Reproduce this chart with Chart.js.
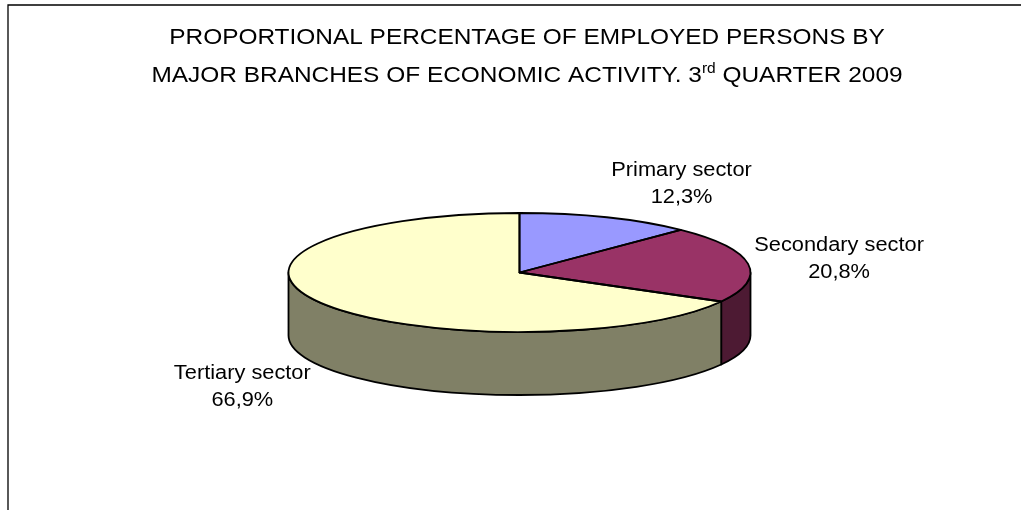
<!DOCTYPE html>
<html>
<head>
<meta charset="utf-8">
<script src="https://cdn.jsdelivr.net/npm/chart.js@4.4.1/dist/chart.umd.min.js"></script>
<style>
    html, body { margin: 0; padding: 0; background: #ffffff; }
    #wrap { width: 1021px; height: 510px; position: relative; }
</style>
</head>
<body>
<div id="wrap"><canvas id="employment-chart" width="1021" height="510"></canvas></div>
<script>
const sectors = ["Primary sector", "Secondary sector", "Tertiary sector"];
const shares = [12.3, 20.8, 66.9];
const titleLine1 = "PROPORTIONAL PERCENTAGE OF EMPLOYED PERSONS BY";
const titleLine2 = ["MAJOR BRANCHES OF ECONOMIC ACTIVITY. 3", "rd", " QUARTER 2009"];
const topColors = ["#9999ff", "#993366", "#ffffcc"];
const sideColors = ["#4d4d80", "#4d1a33", "#808066"];

const FONT = "'Liberation Sans', Arial, sans-serif";

const formatShare = (value) => value.toFixed(1).replace(".", ",") + "%";

// text in the source picture is a bit wider than Arial, so stretch it
const wideText = (ctx, text, x, y, sx) => {
    ctx.save();
    ctx.translate(x, y);
    ctx.scale(sx, 1);
    ctx.fillText(text, 0, 0);
    ctx.restore();
};

const pie3d = {
    id: "pie3d",
    beforeDraw(chart) {
        const ctx = chart.ctx;
        ctx.save();
        ctx.strokeStyle = "#000000";
        ctx.lineWidth = 1.3;
        ctx.beginPath();
        ctx.moveTo(8, chart.height);
        ctx.lineTo(8, 5);
        ctx.lineTo(chart.width, 5);
        ctx.stroke();
        ctx.restore();
    },
    beforeDatasetsDraw(chart, args, opts) {
        const ctx = chart.ctx;
        const arcs = chart.getDatasetMeta(0).data;
        const cx = arcs[0].x;
        const r = arcs[0].outerRadius;
        const cy = opts.centerY;
        const ry = opts.radiusY;

        ctx.save();
        ctx.lineWidth = opts.lineWidth;
        ctx.strokeStyle = "#000000";
        ctx.lineJoin = "round";
        arcs.forEach((arc, i) => {
            const lo = Math.max(arc.startAngle, 0);
            const hi = Math.min(arc.endAngle, Math.PI);
            if (lo >= hi) {
                return;
            }
            ctx.beginPath();
            ctx.ellipse(cx, cy, r, ry, 0, lo, hi);
            ctx.lineTo(cx + r * Math.cos(hi), cy + ry * Math.sin(hi) + opts.depth);
            ctx.ellipse(cx, cy + opts.depth, r, ry, 0, hi, lo, true);
            ctx.closePath();
            ctx.fillStyle = sideColors[i];
            ctx.fill();
            ctx.stroke();
        });
        ctx.restore();

        // squash the library's round pie into the top face
        ctx.save();
        ctx.translate(0, cy);
        ctx.scale(1, ry / r);
        ctx.translate(0, -arcs[0].y);
    },
    afterDatasetsDraw(chart, args, opts) {
        const ctx = chart.ctx;
        ctx.restore();

        const arcs = chart.getDatasetMeta(0).data;
        const cx = arcs[0].x;
        const r = arcs[0].outerRadius;
        const cy = opts.centerY;
        const ry = opts.radiusY;

        ctx.save();
        ctx.lineWidth = opts.lineWidth;
        ctx.strokeStyle = "#000000";
        ctx.lineJoin = "round";
        arcs.forEach((arc) => {
            ctx.beginPath();
            ctx.moveTo(cx, cy);
            ctx.ellipse(cx, cy, r, ry, 0, arc.startAngle, arc.endAngle);
            ctx.closePath();
            ctx.stroke();
        });

        // slice labels
        ctx.fillStyle = "#000000";
        ctx.textAlign = "center";
        ctx.textBaseline = "alphabetic";
        ctx.font = `20px ${FONT}`;
        arcs.forEach((arc, i) => {
            const mid = (arc.startAngle + arc.endAngle) / 2;
            let x = cx + r * Math.cos(mid);
            let y = cy + ry * Math.sin(mid);
            if (Math.sin(mid) > 0) {
                y += opts.depth;
            }
            x += opts.labelNudge[i][0];
            y += opts.labelNudge[i][1];
            wideText(ctx, sectors[i], x, y - 13.5, 1.09);
            wideText(ctx, formatShare(shares[i]), x, y + 13.5, 1.09);
        });

        // title with superscript
        const tx = opts.titleX;
        const sx = 1.11;
        ctx.font = `22px ${FONT}`;
        wideText(ctx, titleLine1, tx, 44, sx);

        const w1 = ctx.measureText(titleLine2[0]).width;
        const w3 = ctx.measureText(titleLine2[2]).width;
        ctx.font = `14px ${FONT}`;
        const w2 = ctx.measureText(titleLine2[1]).width;
        let x0 = tx - (w1 + w2 + w3) * sx / 2;
        ctx.textAlign = "left";
        ctx.font = `22px ${FONT}`;
        wideText(ctx, titleLine2[0], x0, 82, sx);
        x0 += w1 * sx;
        ctx.font = `14px ${FONT}`;
        wideText(ctx, titleLine2[1], x0, 73, sx);
        x0 += w2 * sx;
        ctx.font = `22px ${FONT}`;
        wideText(ctx, titleLine2[2], x0, 82, sx);
        ctx.restore();
    },
};

new Chart(document.getElementById("employment-chart"), {
    type: "pie",
    data: {
        labels: sectors,
        datasets: [
            {
                data: shares,
                backgroundColor: topColors,
                borderWidth: 0,
                borderColor: "rgba(0,0,0,0)",
            },
        ],
    },
    options: {
        responsive: false,
        animation: false,
        events: [],
        layout: {
            padding: { left: 288, right: 270, top: 24, bottom: 24 },
        },
        plugins: {
            legend: { display: false },
            tooltip: { enabled: false },
            title: { display: false },
            pie3d: {
                centerY: 272.5,
                radiusY: 59.5,
                depth: 63,
                lineWidth: 1.8,
                titleX: 527,
                labelNudge: [[75, -28], [91, 1], [-78, 27]],
            },
        },
    },
    plugins: [pie3d],
});
</script>
</body>
</html>
